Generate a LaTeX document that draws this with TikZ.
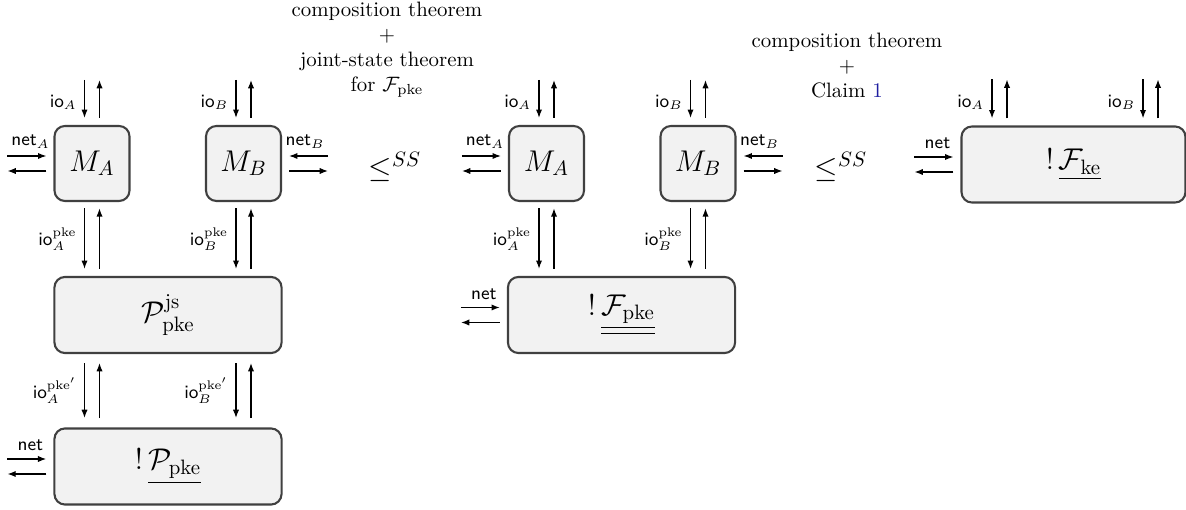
\documentclass[tikz,border=0pt]{standalone}
\usepackage{amsmath}
\usetikzlibrary{arrows.meta,calc}
\definecolor{linkblue}{RGB}{30,30,160}
\definecolor{boxfill}{RGB}{242,242,242}
\definecolor{boxline}{RGB}{64,64,64}
\begin{document}
\begin{tikzpicture}[x=0.48pt,y=-0.48pt,
  smallbox/.style={draw=boxline,fill=boxfill,line width=1pt,rounded corners=5pt,minimum width=36pt,minimum height=36pt,inner sep=0pt,font=\Large},
  widebox/.style={draw=boxline,fill=boxfill,line width=1pt,rounded corners=5pt,minimum width=109pt,minimum height=36.5pt,inner sep=0pt,font=\Large},
  arr/.style={line width=0.6pt,-{Latex[length=4pt,width=3pt]}},
  lbl/.style={font=\small\sffamily,inner sep=3.5pt},
  nlbl/.style={font=\small\sffamily,inner sep=0pt,above=3.5pt},
  theo/.style={align=center,inner sep=0pt,anchor=north}]
\useasboundingbox (0,0) rectangle (1186,510);

% left column
\node[smallbox] (MA1) at (92,163.5) {$M_A$};
\node[smallbox] (MB1) at (243.5,163.5) {$M_B$};
\node[widebox] (Pjs) at (168,315) {$\mathcal{P}^{\mathrm{js}}_{\mathrm{pke}}$};
\node[widebox] (Ppke) at (168,466.5) {$!\,\underline{\mathcal{P}_{\mathrm{pke}}}$};

% middle column
\node[smallbox] (MA2) at (546.5,163.5) {$M_A$};
\node[smallbox] (MB2) at (698,163.5) {$M_B$};
\node[widebox] (Fpke) at (621.5,315) {$!\,\underline{\underline{\mathcal{F}_{\mathrm{pke}}}}$};

% right
\node[widebox,minimum width=107.5pt] (Fke) at (1073.5,164.5) {$!\,\underline{\mathcal{F}_{\mathrm{ke}}}$};

% relations
\node[font=\Large,inner sep=0pt] (le1) at (395,167) {$\leq^{SS}$};
\node[font=\Large,inner sep=0pt] (le2) at (841,167) {$\leq^{SS}$};

\node[theo] (t1) at (387,2) {composition theorem\\$+$\\joint-state theorem\\for $\mathcal{F}_{\mathrm{pke}}$};
\node[theo] (t2) at (847,33) {composition theorem\\$+$\\Claim \textcolor{linkblue}{1}};

% top io arrows for M boxes
\foreach \b/\l in {MA1/A,MB1/B,MA2/A,MB2/B}{
  \coordinate (\b top) at ($(\b.north)+(0,-45)$);
  \draw[arr,shorten >=3.4pt] ([xshift=-3.6pt]\b top) -- node[lbl,left]{io$_{\l}$} ([xshift=-3.6pt]\b.north);
  \draw[arr,shorten <=3.4pt] ([xshift=3.6pt]\b.north) -- ([xshift=3.6pt]\b top);
}
% top io arrows for Fke
\coordinate (FkeA) at ($(Fke.north)+(-74,0)$);
\coordinate (FkeB) at ($(Fke.north)+(77,0)$);
\coordinate (FkeAt) at ($(FkeA)+(0,-46)$);
\coordinate (FkeBt) at ($(FkeB)+(0,-46)$);
\draw[arr,shorten >=3.4pt] ([xshift=-3.6pt]FkeAt) -- node[lbl,left]{io$_{A}$} ([xshift=-3.6pt]FkeA);
\draw[arr,shorten <=3.4pt] ([xshift=3.6pt]FkeA) -- ([xshift=3.6pt]FkeAt);
\draw[arr,shorten >=3.4pt] ([xshift=-3.6pt]FkeBt) -- node[lbl,left]{io$_{B}$} ([xshift=-3.6pt]FkeB);
\draw[arr,shorten <=3.4pt] ([xshift=3.6pt]FkeB) -- ([xshift=3.6pt]FkeBt);

% M boxes to lower boxes
\foreach \b/\t/\l in {MA1/Pjs/A,MB1/Pjs/B,MA2/Fpke/A,MB2/Fpke/B}{
  \draw[arr,shorten <=3pt,shorten >=3.4pt] ([xshift=-3.6pt]\b.south) -- node[lbl,left]{io$_{\l}^{\mathrm{pke}}$} ([xshift=-3.6pt]\b.south |- \t.north);
  \draw[arr,shorten <=3.4pt,shorten >=3pt] ([xshift=3.6pt]\b.south |- \t.north) -- ([xshift=3.6pt]\b.south);
}
% Pjs to Ppke
\foreach \b/\l in {MA1/A,MB1/B}{
  \draw[arr,shorten <=4.3pt,shorten >=4.5pt] ([xshift=-3.6pt]\b.south |- Pjs.south) -- node[lbl,left]{io$_{\l}^{\mathrm{pke}'}$} ([xshift=-3.6pt]\b.south |- Ppke.north);
  \draw[arr,shorten <=4.5pt,shorten >=4.3pt] ([xshift=3.6pt]\b.south |- Ppke.north) -- ([xshift=3.6pt]\b.south |- Pjs.south);
}

% net arrows on the left side (incoming on top)
\foreach \b/\lab in {MA1/{net$_A$},MA2/{net$_A$},Ppke/{net},Fpke/{net},Fke/{net}}{
  \coordinate (\b w) at ($(\b.west)+(-46,0)$);
  \draw[arr,shorten >=3.4pt] ([yshift=3.6pt]\b w) -- node[nlbl]{\lab} ([yshift=3.6pt]\b.west);
  \draw[arr,shorten <=3.4pt] ([yshift=-3.6pt]\b.west) -- ([yshift=-3.6pt]\b w);
}
% net arrows on the right side of M_B
\foreach \b in {MB1,MB2}{
  \coordinate (\b e) at ($(\b.east)+(46,0)$);
  \draw[arr,shorten >=3.4pt] ([yshift=3.6pt]\b e) -- node[nlbl]{net$_B$} ([yshift=3.6pt]\b.east);
  \draw[arr,shorten <=3.4pt] ([yshift=-3.6pt]\b.east) -- ([yshift=-3.6pt]\b e);
}
\end{tikzpicture}
\end{document}
